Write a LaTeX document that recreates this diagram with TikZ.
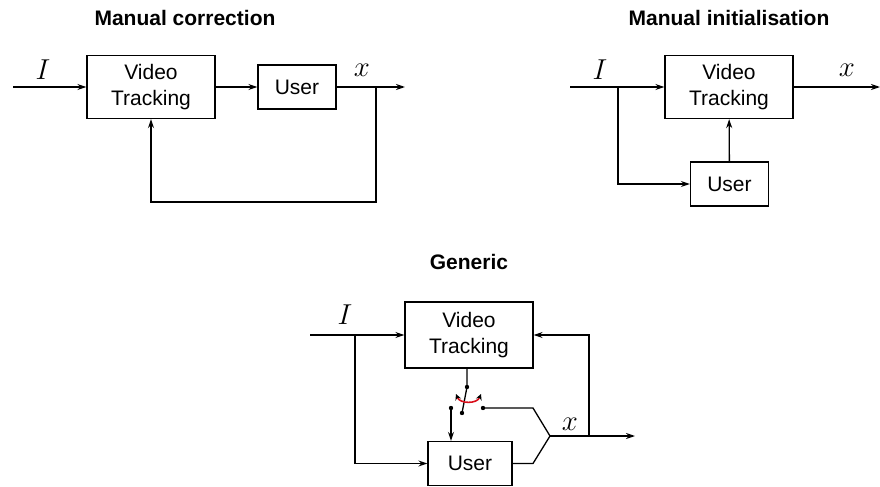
\documentclass[tikz,border=0pt]{standalone}
\usepackage{fontspec}
\setmainfont{Liberation Sans}
\usetikzlibrary{arrows.meta}

\newlength{\du}
\setlength{\du}{0.5pt}

\tikzset{
  block/.style={draw, inner sep=0pt, align=center, font=\fontsize{10.5}{13}\selectfont},
  vtblock/.style={block, minimum width=128\du, minimum height=63\du},
  userblock/.style={block, minimum width=78\du, minimum height=44\du},
  caption/.style={font=\fontsize{10.5}{13}\selectfont\bfseries},
  sig/.style={inner sep=0pt, font=\fontsize{14}{17}\selectfont},
  flow/.style={-{Stealth[length=4.5pt,width=3pt]}},
  contact/.style={fill, radius=1.1pt},
}

\begin{document}
\begin{tikzpicture}
\pgftransformxscale{1.000000}
\pgftransformyscale{-1.000000}
\definecolor{dialinecolor}{rgb}{0.850000, 0.050000, 0.100000}
\pgfsetlinewidth{1.300000\du}
\useasboundingbox (0\du,0\du) rectangle (880\du,487\du);
% manual correction
\node[caption] (ttlA) at (185\du,18\du) {Manual correction};
\node[vtblock] (vtA) at (151\du,87\du) {Video\\Tracking};
\node[userblock] (usA) at (297\du,87\du) {User};
\coordinate (inA) at (13\du,87\du);
\coordinate (brA) at (376\du,87\du);
\coordinate (outA) at (405\du,87\du);
\coordinate (lowA) at (376\du,202\du);
\node[sig] (imA) at (43\du,70\du) {$I$};
\node[sig] (xA) at (362\du,70\du) {$x$};
\draw[flow] (inA) -- (vtA);
\draw[flow] (vtA) -- (usA);
\draw[flow] (usA) -- (outA);
\draw[flow] (brA) -- (lowA) -| (vtA.south);
% manual initialisation
\node[caption] (ttlB) at (729\du,18\du) {Manual initialisation};
\node[vtblock] (vtB) at (729\du,87\du) {Video\\Tracking};
\node[userblock] (usB) at (729.5\du,184\du) {User};
\coordinate (inB) at (570\du,87\du);
\coordinate (brB) at (618\du,87\du);
\coordinate (outB) at (880\du,87\du);
\node[sig] (imB) at (600\du,70\du) {$I$};
\node[sig] (xB) at (847\du,70\du) {$x$};
\draw[flow] (inB) -- (vtB);
\draw[flow] (vtB) -- (outB);
\draw[flow] (brB) |- (usB.west);
\draw[flow] (usB) -- (vtB);
% generic
\node[caption] (ttlC) at (469\du,262\du) {Generic};
\node[vtblock, minimum height=66\du] (vtC) at (469\du,335\du) {Video\\Tracking};
\node[userblock, minimum width=84\du] (usC) at (470\du,463.5\du) {User};
\coordinate (inC) at (310\du,335\du);
\coordinate (brC) at (355\du,335\du);
\coordinate (swA) at (467\du,387\du);
\coordinate (swB) at (462\du,413\du);
\coordinate (swL) at (451\du,408\du);
\coordinate (swR) at (483\du,408\du);
\coordinate (kC) at (533\du,408\du);
\coordinate (kD) at (533\du,463.5\du);
\coordinate (jC) at (550\du,436\du);
\coordinate (fbC) at (589\du,436\du);
\coordinate (outC) at (635\du,436\du);
\coordinate (arcL) at (456\du,394\du);
\coordinate (arcR) at (481\du,394\du);
\node[sig] (imC) at (345\du,315\du) {$I$};
\node[sig] (xC) at (570\du,424\du) {$x$};
\draw[flow] (inC) -- (vtC);
\draw[flow] (brC) |- (usC.west);
\draw (swA |- vtC.south) -- (swA) -- (swB);
\draw[flow] (swL) -- (swL |- usC.north);
\draw (swR) -- (kC) -- (jC);
\draw (usC.east) -- (kD) -- (jC);
\draw[flow] (jC) -- (outC);
\draw[flow] (fbC) |- (vtC.east);
\fill[contact] (swA) circle;
\fill[contact] (swB) circle;
\fill[contact] (swL) circle;
\fill[contact] (swR) circle;
\draw[dialinecolor, line width=1.6\du, {Stealth[length=3pt,width=3pt,black]}-{Stealth[length=3pt,width=3pt,black]}]
  (arcL) .. controls (460\du,404\du) and (477\du,404\du) .. (arcR);
\end{tikzpicture}
\end{document}
